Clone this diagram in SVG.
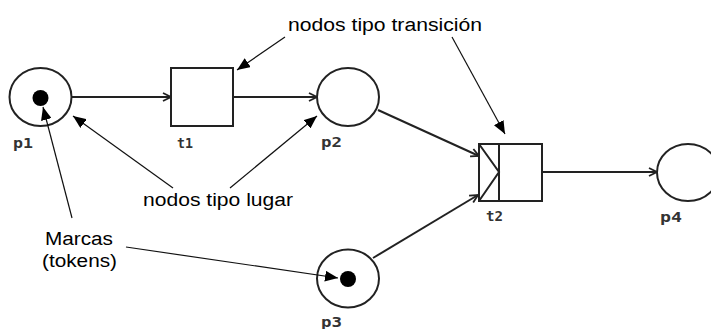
<svg xmlns="http://www.w3.org/2000/svg" width="711" height="329" viewBox="0 0 711 329">
  <style>
    .place { fill: #fff; stroke: #222; stroke-width: 2; }
    .trans { fill: #fff; stroke: #222; stroke-width: 2; }
    .token { fill: #000; }
    .arc { fill: none; stroke: #222; stroke-width: 2; marker-end: url(#arcHead); }
    .note { fill: none; stroke: #111; stroke-width: 1.2; marker-end: url(#noteHead); }
    .lbl { font-family: "DejaVu Sans Mono", "Liberation Mono", monospace; font-weight: bold; font-size: 14px; fill: #333; }
    .txt { font-family: "Liberation Sans", Arial, sans-serif; font-size: 18px; fill: #000; }
  </style>
  <defs>
    <marker id="arcHead" viewBox="0 0 10 10" refX="9" refY="5" markerWidth="10" markerHeight="10" markerUnits="userSpaceOnUse" orient="auto">
      <path d="M1,1 L9,5 L1,9" fill="none" stroke="#222" stroke-width="1.8"/>
    </marker>
    <marker id="noteHead" viewBox="0 0 12 10" refX="12" refY="5" markerWidth="13" markerHeight="11" markerUnits="userSpaceOnUse" orient="auto">
      <path d="M0,0 L12,5 L0,10 Z" fill="#000"/>
    </marker>
  </defs>

  <g id="p1">
    <ellipse class="place" cx="40.5" cy="97" rx="31" ry="29"/>
    <circle class="token" cx="40.5" cy="98" r="8"/>
    <text class="lbl" x="13" y="148" textLength="20" lengthAdjust="spacingAndGlyphs">p1</text>
  </g>
  <g id="t1">
    <rect class="trans" x="171" y="68" width="62" height="58"/>
    <text class="lbl" x="177" y="148" textLength="16" lengthAdjust="spacingAndGlyphs">t1</text>
  </g>
  <g id="p2">
    <ellipse class="place" cx="348" cy="97" rx="31" ry="29"/>
    <text class="lbl" x="321" y="147" textLength="21" lengthAdjust="spacingAndGlyphs">p2</text>
  </g>
  <g id="t2">
    <rect class="trans" x="479" y="144" width="63" height="57"/>
    <line x1="499" y1="144" x2="499" y2="201" stroke="#222" stroke-width="2"/>
    <polyline points="479,144 499,172 479,201" fill="none" stroke="#222" stroke-width="2"/>
    <text class="lbl" x="486" y="221" textLength="17" lengthAdjust="spacingAndGlyphs">t2</text>
  </g>
  <g id="p3">
    <ellipse class="place" cx="348" cy="278.5" rx="31" ry="29"/>
    <circle class="token" cx="348" cy="279" r="8"/>
    <text class="lbl" x="321" y="327" textLength="21" lengthAdjust="spacingAndGlyphs">p3</text>
  </g>
  <g id="p4">
    <ellipse class="place" cx="688" cy="172.5" rx="31" ry="28.5"/>
    <text class="lbl" x="660" y="222" textLength="22" lengthAdjust="spacingAndGlyphs">p4</text>
  </g>

  <!-- arcs of the net and annotation pointers, drawn over the nodes -->
  <g id="connectors">
    <line class="arc" x1="72" y1="97" x2="171" y2="97"/>
    <line class="arc" x1="233" y1="97" x2="317" y2="97"/>
    <line class="arc" x1="378" y1="110" x2="479" y2="156"/>
    <line class="arc" x1="373" y1="258" x2="478" y2="195"/>
    <line class="arc" x1="542" y1="172" x2="657" y2="172"/>

    <line class="note" x1="285" y1="37" x2="237" y2="70"/>
    <line class="note" x1="452" y1="37" x2="505" y2="134"/>
    <line class="note" x1="173" y1="188" x2="73" y2="116"/>
    <line class="note" x1="230" y1="188" x2="317" y2="116"/>
    <line class="note" x1="72" y1="218" x2="43" y2="107"/>
    <line class="note" x1="126" y1="247" x2="338" y2="278"/>
  </g>

  <g id="notes">
    <text class="txt" x="288" y="31" textLength="194" lengthAdjust="spacingAndGlyphs">nodos tipo transición</text>
    <text class="txt" x="143" y="206" textLength="150" lengthAdjust="spacingAndGlyphs">nodos tipo lugar</text>
    <text class="txt" x="45" y="245" textLength="68" lengthAdjust="spacingAndGlyphs">Marcas</text>
    <text class="txt" x="42" y="267" textLength="75" lengthAdjust="spacingAndGlyphs">(tokens)</text>
  </g>
</svg>
